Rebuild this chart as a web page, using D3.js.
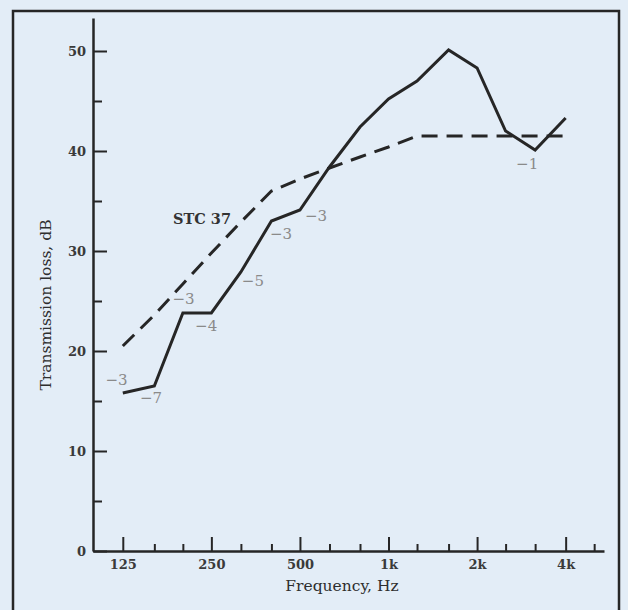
<!DOCTYPE html>
<html>
<head>
<meta charset="utf-8">
<script src="https://cdn.jsdelivr.net/npm/d3@7"></script>
<style>
  html, body { margin: 0; padding: 0; background: #e3edf7; }
  svg { display: block; }
</style>
</head>
<body>
<svg id="chart" width="628" height="610"></svg>
<script>
// ---- data ----
const frequencies = [125, 160, 200, 250, 315, 400, 500, 630, 800, 1000, 1250, 1600, 2000, 2500, 3150, 4000];
const transmissionLoss = [15.8, 16.5, 23.8, 23.8, 27.9, 33.0, 34.1, 38.4, 42.4, 45.2, 47.0, 50.1, 48.3, 42.0, 40.1, 43.3];
const stcContour = [20.5, 23.6, 26.7, 29.8, 32.9, 36.0, 37.2, 38.3, 39.4, 40.4, 41.5, 41.5, 41.5, 41.5, 41.5, 41.5];
const stcLabel = "STC 37";
const deficiencyFreq = [119, 156, 201, 240, 346, 431, 567, 2960];
const deficiencyDb = [17.1, 15.3, 25.2, 22.5, 27.0, 31.7, 33.5, 38.7];
const deficiencyText = ["−3", "−7", "−3", "−4", "−5", "−3", "−3", "−1"];
const xMajorTicks = [125, 250, 500, 1000, 2000, 4000];
const xMajorLabels = ["125", "250", "500", "1k", "2k", "4k"];
const xMinorTicks = [160, 200, 315, 400, 630, 800, 1250, 1600, 2500, 3150, 5000];
const yMajorTicks = [0, 10, 20, 30, 40, 50];
const yMinorTicks = [5, 15, 25, 35, 45];
const xTitle = "Frequency, Hz";
const yTitle = "Transmission loss, dB";

// ---- layout ----
const svg = d3.select("#chart");
const ink = "#262626";
const serif = "'DejaVu Serif', serif";

const x = d3.scaleLog().domain([99, 5400]).range([93, 604]);
const y = d3.scaleLinear().domain([0, 53.3]).range([551, 18]);

// frame
svg.append("rect")
  .attr("x", 13).attr("y", 11).attr("width", 606).attr("height", 640)
  .attr("fill", "none").attr("stroke", ink).attr("stroke-width", 2.5);

// x axis
const xAxisMajor = d3.axisBottom(x)
  .tickValues(xMajorTicks)
  .tickFormat((d, i) => xMajorLabels[i])
  .tickSizeInner(-14).tickSizeOuter(0).tickPadding(9);
const gx = svg.append("g").attr("transform", `translate(0,${y(0)})`).call(xAxisMajor);
gx.select(".domain").attr("stroke", ink).attr("stroke-width", 2.5);
gx.selectAll(".tick line").attr("stroke", ink).attr("stroke-width", 2);
gx.selectAll(".tick text")
  .attr("font-family", serif).attr("font-size", 13).attr("font-weight", "bold")
  .attr("fill", "#3a3a3a");

const xAxisMinor = d3.axisBottom(x)
  .tickValues(xMinorTicks).tickFormat("")
  .tickSizeInner(-7).tickSizeOuter(0);
const gxm = svg.append("g").attr("transform", `translate(0,${y(0)})`).call(xAxisMinor);
gxm.select(".domain").remove();
gxm.selectAll(".tick line").attr("stroke", ink).attr("stroke-width", 2);

// y axis
const yAxisMajor = d3.axisLeft(y)
  .tickValues(yMajorTicks)
  .tickSizeInner(-14).tickSizeOuter(0).tickPadding(7);
const gy = svg.append("g").attr("transform", `translate(${x.range()[0]},0)`).call(yAxisMajor);
gy.select(".domain").attr("stroke", ink).attr("stroke-width", 2.5);
gy.selectAll(".tick line").attr("stroke", ink).attr("stroke-width", 2);
gy.selectAll(".tick text")
  .attr("font-family", serif).attr("font-size", 13).attr("font-weight", "bold")
  .attr("fill", "#3a3a3a");

const yAxisMinor = d3.axisLeft(y)
  .tickValues(yMinorTicks).tickFormat("")
  .tickSizeInner(-9).tickSizeOuter(0);
const gym = svg.append("g").attr("transform", `translate(${x.range()[0]},0)`).call(yAxisMinor);
gym.select(".domain").remove();
gym.selectAll(".tick line").attr("stroke", ink).attr("stroke-width", 2);

// axis titles
svg.append("text")
  .attr("x", 342).attr("y", 591)
  .attr("text-anchor", "middle")
  .attr("font-family", serif).attr("font-size", 15.5)
  .attr("fill", "#2e2e2e")
  .text(xTitle);

svg.append("text")
  .attr("transform", "translate(51,305) rotate(-90)")
  .attr("text-anchor", "middle")
  .attr("font-family", serif).attr("font-size", 15.5)
  .attr("fill", "#2e2e2e")
  .text(yTitle);

// curves
const line = d3.line().x(d => x(d[0])).y(d => y(d[1]));

svg.append("path")
  .datum(frequencies.map((f, i) => [f, stcContour[i]]))
  .attr("d", line)
  .attr("fill", "none").attr("stroke", ink)
  .attr("stroke-width", 3).attr("stroke-dasharray", "16,9");

svg.append("path")
  .datum(frequencies.map((f, i) => [f, transmissionLoss[i]]))
  .attr("d", line)
  .attr("fill", "none").attr("stroke", ink)
  .attr("stroke-width", 3).attr("stroke-linejoin", "miter");

// STC label
svg.append("text")
  .attr("x", 173).attr("y", 224)
  .attr("font-family", serif).attr("font-size", 14.5).attr("font-weight", "bold")
  .attr("fill", "#333")
  .text(stcLabel);

// deficiency labels
svg.append("g").selectAll("text")
  .data(deficiencyText)
  .join("text")
  .attr("x", (d, i) => x(deficiencyFreq[i]))
  .attr("y", (d, i) => y(deficiencyDb[i]))
  .attr("dy", "0.36em")
  .attr("text-anchor", "middle")
  .attr("font-family", serif).attr("font-size", 15)
  .attr("fill", "#8a8a8a")
  .text(d => d);
</script>
</body>
</html>
